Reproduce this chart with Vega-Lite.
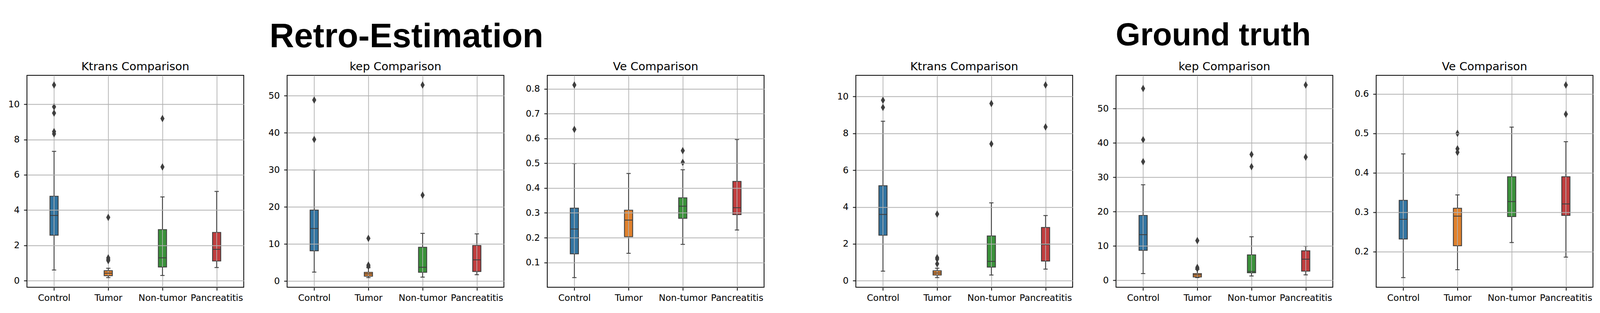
{
  "$schema": "https://vega.github.io/schema/vega-lite/v6.json",
  "background": "white",
  "padding": {"left": 11, "top": 50, "right": 20, "bottom": 27},
  "spacing": 176,
  "data": {"values": [
      {"g":"R","p":"Ktrans","c":"Control","lo":0.61,"q1":2.58,"med":3.70,"q3":4.79,"hi":7.33},
      {"g":"R","p":"Ktrans","c":"Tumor","lo":0.18,"q1":0.29,"med":0.43,"q3":0.57,"hi":0.71},
      {"g":"R","p":"Ktrans","c":"Non-tumor","lo":0.30,"q1":0.78,"med":1.30,"q3":2.90,"hi":4.75},
      {"g":"R","p":"Ktrans","c":"Pancreatitis","lo":0.75,"q1":1.12,"med":1.78,"q3":2.74,"hi":5.06},
      {"g":"R","p":"kep","c":"Control","lo":2.40,"q1":8.15,"med":14.17,"q3":19.14,"hi":29.95},
      {"g":"R","p":"kep","c":"Tumor","lo":0.92,"q1":1.31,"med":1.92,"q3":2.35,"hi":3.6},
      {"g":"R","p":"kep","c":"Non-tumor","lo":1.05,"q1":2.35,"med":3.71,"q3":9.11,"hi":12.86},
      {"g":"R","p":"kep","c":"Pancreatitis","lo":1.70,"q1":2.57,"med":5.71,"q3":9.59,"hi":12.73},
      {"g":"R","p":"Ve","c":"Control","lo":0.039,"q1":0.135,"med":0.235,"q3":0.319,"hi":0.499},
      {"g":"R","p":"Ve","c":"Tumor","lo":0.137,"q1":0.204,"med":0.271,"q3":0.311,"hi":0.459},
      {"g":"R","p":"Ve","c":"Non-tumor","lo":0.173,"q1":0.278,"med":0.327,"q3":0.361,"hi":0.474},
      {"g":"R","p":"Ve","c":"Pancreatitis","lo":0.231,"q1":0.293,"med":0.321,"q3":0.427,"hi":0.596},
      {"g":"G","p":"Ktrans","c":"Control","lo":0.52,"q1":2.47,"med":3.60,"q3":5.16,"hi":8.66},
      {"g":"G","p":"Ktrans","c":"Tumor","lo":0.17,"q1":0.31,"med":0.42,"q3":0.54,"hi":0.68},
      {"g":"G","p":"Ktrans","c":"Non-tumor","lo":0.31,"q1":0.74,"med":1.05,"q3":2.43,"hi":4.23},
      {"g":"G","p":"Ktrans","c":"Pancreatitis","lo":0.63,"q1":1.07,"med":1.96,"q3":2.89,"hi":3.54},
      {"g":"G","p":"kep","c":"Control","lo":1.97,"q1":8.74,"med":13.30,"q3":18.89,"hi":27.82},
      {"g":"G","p":"kep","c":"Tumor","lo":0.80,"q1":0.99,"med":1.60,"q3":1.97,"hi":3.2},
      {"g":"G","p":"kep","c":"Non-tumor","lo":1.27,"q1":2.21,"med":2.58,"q3":7.42,"hi":12.69},
      {"g":"G","p":"kep","c":"Pancreatitis","lo":1.60,"q1":2.68,"med":6.16,"q3":8.60,"hi":9.92},
      {"g":"G","p":"Ve","c":"Control","lo":0.134,"q1":0.232,"med":0.282,"q3":0.330,"hi":0.448},
      {"g":"G","p":"Ve","c":"Tumor","lo":0.154,"q1":0.215,"med":0.290,"q3":0.310,"hi":0.344},
      {"g":"G","p":"Ve","c":"Non-tumor","lo":0.223,"q1":0.289,"med":0.327,"q3":0.390,"hi":0.516},
      {"g":"G","p":"Ve","c":"Pancreatitis","lo":0.186,"q1":0.292,"med":0.321,"q3":0.390,"hi":0.479},
      {"g":"R","p":"Ktrans","c":"Control","out":11.09},
      {"g":"R","p":"Ktrans","c":"Control","out":9.85},
      {"g":"R","p":"Ktrans","c":"Control","out":9.50},
      {"g":"R","p":"Ktrans","c":"Control","out":8.45},
      {"g":"R","p":"Ktrans","c":"Control","out":8.32},
      {"g":"R","p":"Ktrans","c":"Tumor","out":3.59},
      {"g":"R","p":"Ktrans","c":"Tumor","out":1.30},
      {"g":"R","p":"Ktrans","c":"Tumor","out":1.21},
      {"g":"R","p":"Ktrans","c":"Tumor","out":1.14},
      {"g":"R","p":"Ktrans","c":"Non-tumor","out":9.19},
      {"g":"R","p":"Ktrans","c":"Non-tumor","out":6.45},
      {"g":"R","p":"kep","c":"Control","out":48.87},
      {"g":"R","p":"kep","c":"Control","out":38.23},
      {"g":"R","p":"kep","c":"Tumor","out":11.51},
      {"g":"R","p":"kep","c":"Tumor","out":4.3},
      {"g":"R","p":"kep","c":"Tumor","out":3.95},
      {"g":"R","p":"kep","c":"Non-tumor","out":52.92},
      {"g":"R","p":"kep","c":"Non-tumor","out":23.19},
      {"g":"R","p":"Ve","c":"Control","out":0.816},
      {"g":"R","p":"Ve","c":"Control","out":0.637},
      {"g":"R","p":"Ve","c":"Non-tumor","out":0.551},
      {"g":"R","p":"Ve","c":"Non-tumor","out":0.504},
      {"g":"G","p":"Ktrans","c":"Control","out":9.80},
      {"g":"G","p":"Ktrans","c":"Control","out":9.41},
      {"g":"G","p":"Ktrans","c":"Tumor","out":3.62},
      {"g":"G","p":"Ktrans","c":"Tumor","out":1.25},
      {"g":"G","p":"Ktrans","c":"Tumor","out":1.18},
      {"g":"G","p":"Ktrans","c":"Tumor","out":0.92},
      {"g":"G","p":"Ktrans","c":"Non-tumor","out":9.62},
      {"g":"G","p":"Ktrans","c":"Non-tumor","out":7.43},
      {"g":"G","p":"Ktrans","c":"Pancreatitis","out":10.63},
      {"g":"G","p":"Ktrans","c":"Pancreatitis","out":8.35},
      {"g":"G","p":"kep","c":"Control","out":55.83},
      {"g":"G","p":"kep","c":"Control","out":40.93},
      {"g":"G","p":"kep","c":"Control","out":34.54},
      {"g":"G","p":"kep","c":"Tumor","out":11.56},
      {"g":"G","p":"kep","c":"Tumor","out":3.76},
      {"g":"G","p":"kep","c":"Tumor","out":3.4},
      {"g":"G","p":"kep","c":"Non-tumor","out":36.65},
      {"g":"G","p":"kep","c":"Non-tumor","out":33.08},
      {"g":"G","p":"kep","c":"Pancreatitis","out":56.86},
      {"g":"G","p":"kep","c":"Pancreatitis","out":35.86},
      {"g":"G","p":"Ve","c":"Tumor","out":0.500},
      {"g":"G","p":"Ve","c":"Tumor","out":0.461},
      {"g":"G","p":"Ve","c":"Tumor","out":0.452},
      {"g":"G","p":"Ve","c":"Pancreatitis","out":0.623},
      {"g":"G","p":"Ve","c":"Pancreatitis","out":0.549}
  ]},
  "hconcat": [
    {
      "title": {"text": "Retro-Estimation", "font": "Liberation Sans", "fontWeight": "bold", "fontSize": 87, "offset": 17.4, "dx": 56.5},
      "bounds": "flush",
      "spacing": 111,
      "hconcat": [
        {"title": "Ktrans Comparison", "width": 555, "height": 543,
         "transform": [{"filter": "datum.g === 'R' && datum.p === 'Ktrans'"}],
         "layer": [
          {"transform": [{"filter": "isValid(datum.q1)"}], "mark": {"type": "rule", "color": "#3f3f3f", "strokeWidth": 2.2},
           "encoding": {"x": {"field": "c", "type": "nominal", "sort": ["Control", "Tumor", "Non-tumor", "Pancreatitis"], "scale": {"type": "point", "padding": 0.5}, "title": null, "axis": {"labelAngle": 0}},
                        "y": {"field": "lo", "type": "quantitative", "title": null, "scale": {"zero": false, "nice": false, "padding": 24.7}, "axis": {"tickCount": 7, "zindex": 1}},
                        "y2": {"field": "hi"}}},
          {"transform": [{"filter": "isValid(datum.q1)"}], "mark": {"type": "bar", "width": 21, "stroke": "#3f3f3f", "strokeWidth": 2.2},
           "encoding": {"x": {"field": "c", "type": "nominal", "sort": ["Control", "Tumor", "Non-tumor", "Pancreatitis"], "title": null},
                        "y": {"field": "q1", "type": "quantitative", "title": null, "scale": {"zero": false, "nice": false, "padding": 24.7}}, "y2": {"field": "q3"},
                        "color": {"field": "c", "type": "nominal", "scale": {"domain": ["Control", "Tumor", "Non-tumor", "Pancreatitis"], "range": ["#3274a1", "#e1812c", "#3a923a", "#c03d3e"]}, "legend": null}}},
          {"transform": [{"filter": "isValid(datum.q1)"}], "mark": {"type": "rule", "color": "#b0b0b0", "strokeWidth": 1.8},
           "encoding": {"x": {"field": "c", "type": "nominal", "sort": ["Control", "Tumor", "Non-tumor", "Pancreatitis"], "title": null},
                        "y": {"field": "q1", "type": "quantitative", "title": null}, "y2": {"field": "q3"}}},
          {"transform": [{"filter": "isValid(datum.q1)"}, {"fold": ["lo", "hi"], "as": ["k", "v"]}], "mark": {"type": "tick", "color": "#3f3f3f", "size": 11, "thickness": 2.2, "opacity": 1},
           "encoding": {"x": {"field": "c", "type": "nominal", "sort": ["Control", "Tumor", "Non-tumor", "Pancreatitis"], "title": null},
                        "y": {"field": "v", "type": "quantitative", "title": null}}},
          {"transform": [{"filter": "isValid(datum.q1)"}], "mark": {"type": "tick", "color": "#3f3f3f", "size": 21, "thickness": 2.2, "opacity": 1},
           "encoding": {"x": {"field": "c", "type": "nominal", "sort": ["Control", "Tumor", "Non-tumor", "Pancreatitis"], "title": null},
                        "y": {"field": "med", "type": "quantitative", "title": null}}},
          {"transform": [{"filter": "isValid(datum.out)"}], "mark": {"type": "point", "shape": "M0,-1L0.56,0L0,1L-0.56,0Z", "size": 361, "filled": true, "color": "#3f3f3f", "opacity": 1},
           "encoding": {"x": {"field": "c", "type": "nominal", "sort": ["Control", "Tumor", "Non-tumor", "Pancreatitis"], "title": null},
                        "y": {"field": "out", "type": "quantitative", "title": null}}}
         ]},
        {"title": "kep Comparison", "width": 555, "height": 543,
         "transform": [{"filter": "datum.g === 'R' && datum.p === 'kep'"}],
         "layer": [
          {"transform": [{"filter": "isValid(datum.q1)"}], "mark": {"type": "rule", "color": "#3f3f3f", "strokeWidth": 2.2},
           "encoding": {"x": {"field": "c", "type": "nominal", "sort": ["Control", "Tumor", "Non-tumor", "Pancreatitis"], "scale": {"type": "point", "padding": 0.5}, "title": null, "axis": {"labelAngle": 0}},
                        "y": {"field": "lo", "type": "quantitative", "title": null, "scale": {"zero": false, "nice": false, "padding": 24.7}, "axis": {"tickCount": 7, "zindex": 1}},
                        "y2": {"field": "hi"}}},
          {"transform": [{"filter": "isValid(datum.q1)"}], "mark": {"type": "bar", "width": 21, "stroke": "#3f3f3f", "strokeWidth": 2.2},
           "encoding": {"x": {"field": "c", "type": "nominal", "sort": ["Control", "Tumor", "Non-tumor", "Pancreatitis"], "title": null},
                        "y": {"field": "q1", "type": "quantitative", "title": null, "scale": {"zero": false, "nice": false, "padding": 24.7}}, "y2": {"field": "q3"},
                        "color": {"field": "c", "type": "nominal", "scale": {"domain": ["Control", "Tumor", "Non-tumor", "Pancreatitis"], "range": ["#3274a1", "#e1812c", "#3a923a", "#c03d3e"]}, "legend": null}}},
          {"transform": [{"filter": "isValid(datum.q1)"}], "mark": {"type": "rule", "color": "#b0b0b0", "strokeWidth": 1.8},
           "encoding": {"x": {"field": "c", "type": "nominal", "sort": ["Control", "Tumor", "Non-tumor", "Pancreatitis"], "title": null},
                        "y": {"field": "q1", "type": "quantitative", "title": null}, "y2": {"field": "q3"}}},
          {"transform": [{"filter": "isValid(datum.q1)"}, {"fold": ["lo", "hi"], "as": ["k", "v"]}], "mark": {"type": "tick", "color": "#3f3f3f", "size": 11, "thickness": 2.2, "opacity": 1},
           "encoding": {"x": {"field": "c", "type": "nominal", "sort": ["Control", "Tumor", "Non-tumor", "Pancreatitis"], "title": null},
                        "y": {"field": "v", "type": "quantitative", "title": null}}},
          {"transform": [{"filter": "isValid(datum.q1)"}], "mark": {"type": "tick", "color": "#3f3f3f", "size": 21, "thickness": 2.2, "opacity": 1},
           "encoding": {"x": {"field": "c", "type": "nominal", "sort": ["Control", "Tumor", "Non-tumor", "Pancreatitis"], "title": null},
                        "y": {"field": "med", "type": "quantitative", "title": null}}},
          {"transform": [{"filter": "isValid(datum.out)"}], "mark": {"type": "point", "shape": "M0,-1L0.56,0L0,1L-0.56,0Z", "size": 361, "filled": true, "color": "#3f3f3f", "opacity": 1},
           "encoding": {"x": {"field": "c", "type": "nominal", "sort": ["Control", "Tumor", "Non-tumor", "Pancreatitis"], "title": null},
                        "y": {"field": "out", "type": "quantitative", "title": null}}}
         ]},
        {"title": "Ve Comparison", "width": 555, "height": 543,
         "transform": [{"filter": "datum.g === 'R' && datum.p === 'Ve'"}],
         "layer": [
          {"transform": [{"filter": "isValid(datum.q1)"}], "mark": {"type": "rule", "color": "#3f3f3f", "strokeWidth": 2.2},
           "encoding": {"x": {"field": "c", "type": "nominal", "sort": ["Control", "Tumor", "Non-tumor", "Pancreatitis"], "scale": {"type": "point", "padding": 0.5}, "title": null, "axis": {"labelAngle": 0}},
                        "y": {"field": "lo", "type": "quantitative", "title": null, "scale": {"zero": false, "nice": false, "padding": 24.7}, "axis": {"tickCount": 7, "zindex": 1}},
                        "y2": {"field": "hi"}}},
          {"transform": [{"filter": "isValid(datum.q1)"}], "mark": {"type": "bar", "width": 21, "stroke": "#3f3f3f", "strokeWidth": 2.2},
           "encoding": {"x": {"field": "c", "type": "nominal", "sort": ["Control", "Tumor", "Non-tumor", "Pancreatitis"], "title": null},
                        "y": {"field": "q1", "type": "quantitative", "title": null, "scale": {"zero": false, "nice": false, "padding": 24.7}}, "y2": {"field": "q3"},
                        "color": {"field": "c", "type": "nominal", "scale": {"domain": ["Control", "Tumor", "Non-tumor", "Pancreatitis"], "range": ["#3274a1", "#e1812c", "#3a923a", "#c03d3e"]}, "legend": null}}},
          {"transform": [{"filter": "isValid(datum.q1)"}], "mark": {"type": "rule", "color": "#b0b0b0", "strokeWidth": 1.8},
           "encoding": {"x": {"field": "c", "type": "nominal", "sort": ["Control", "Tumor", "Non-tumor", "Pancreatitis"], "title": null},
                        "y": {"field": "q1", "type": "quantitative", "title": null}, "y2": {"field": "q3"}}},
          {"transform": [{"filter": "isValid(datum.q1)"}, {"fold": ["lo", "hi"], "as": ["k", "v"]}], "mark": {"type": "tick", "color": "#3f3f3f", "size": 11, "thickness": 2.2, "opacity": 1},
           "encoding": {"x": {"field": "c", "type": "nominal", "sort": ["Control", "Tumor", "Non-tumor", "Pancreatitis"], "title": null},
                        "y": {"field": "v", "type": "quantitative", "title": null}}},
          {"transform": [{"filter": "isValid(datum.q1)"}], "mark": {"type": "tick", "color": "#3f3f3f", "size": 21, "thickness": 2.2, "opacity": 1},
           "encoding": {"x": {"field": "c", "type": "nominal", "sort": ["Control", "Tumor", "Non-tumor", "Pancreatitis"], "title": null},
                        "y": {"field": "med", "type": "quantitative", "title": null}}},
          {"transform": [{"filter": "isValid(datum.out)"}], "mark": {"type": "point", "shape": "M0,-1L0.56,0L0,1L-0.56,0Z", "size": 361, "filled": true, "color": "#3f3f3f", "opacity": 1},
           "encoding": {"x": {"field": "c", "type": "nominal", "sort": ["Control", "Tumor", "Non-tumor", "Pancreatitis"], "title": null},
                        "y": {"field": "out", "type": "quantitative", "title": null}}}
         ]}
      ]
    },
    {
      "title": {"text": "Ground truth", "font": "Liberation Sans", "fontWeight": "bold", "fontSize": 81, "offset": 23.4},
      "bounds": "flush",
      "spacing": 111,
      "hconcat": [
        {"title": "Ktrans Comparison", "width": 555, "height": 543,
         "transform": [{"filter": "datum.g === 'G' && datum.p === 'Ktrans'"}],
         "layer": [
          {"transform": [{"filter": "isValid(datum.q1)"}], "mark": {"type": "rule", "color": "#3f3f3f", "strokeWidth": 2.2},
           "encoding": {"x": {"field": "c", "type": "nominal", "sort": ["Control", "Tumor", "Non-tumor", "Pancreatitis"], "scale": {"type": "point", "padding": 0.5}, "title": null, "axis": {"labelAngle": 0}},
                        "y": {"field": "lo", "type": "quantitative", "title": null, "scale": {"zero": false, "nice": false, "padding": 24.7}, "axis": {"tickCount": 7, "zindex": 1}},
                        "y2": {"field": "hi"}}},
          {"transform": [{"filter": "isValid(datum.q1)"}], "mark": {"type": "bar", "width": 21, "stroke": "#3f3f3f", "strokeWidth": 2.2},
           "encoding": {"x": {"field": "c", "type": "nominal", "sort": ["Control", "Tumor", "Non-tumor", "Pancreatitis"], "title": null},
                        "y": {"field": "q1", "type": "quantitative", "title": null, "scale": {"zero": false, "nice": false, "padding": 24.7}}, "y2": {"field": "q3"},
                        "color": {"field": "c", "type": "nominal", "scale": {"domain": ["Control", "Tumor", "Non-tumor", "Pancreatitis"], "range": ["#3274a1", "#e1812c", "#3a923a", "#c03d3e"]}, "legend": null}}},
          {"transform": [{"filter": "isValid(datum.q1)"}], "mark": {"type": "rule", "color": "#b0b0b0", "strokeWidth": 1.8},
           "encoding": {"x": {"field": "c", "type": "nominal", "sort": ["Control", "Tumor", "Non-tumor", "Pancreatitis"], "title": null},
                        "y": {"field": "q1", "type": "quantitative", "title": null}, "y2": {"field": "q3"}}},
          {"transform": [{"filter": "isValid(datum.q1)"}, {"fold": ["lo", "hi"], "as": ["k", "v"]}], "mark": {"type": "tick", "color": "#3f3f3f", "size": 11, "thickness": 2.2, "opacity": 1},
           "encoding": {"x": {"field": "c", "type": "nominal", "sort": ["Control", "Tumor", "Non-tumor", "Pancreatitis"], "title": null},
                        "y": {"field": "v", "type": "quantitative", "title": null}}},
          {"transform": [{"filter": "isValid(datum.q1)"}], "mark": {"type": "tick", "color": "#3f3f3f", "size": 21, "thickness": 2.2, "opacity": 1},
           "encoding": {"x": {"field": "c", "type": "nominal", "sort": ["Control", "Tumor", "Non-tumor", "Pancreatitis"], "title": null},
                        "y": {"field": "med", "type": "quantitative", "title": null}}},
          {"transform": [{"filter": "isValid(datum.out)"}], "mark": {"type": "point", "shape": "M0,-1L0.56,0L0,1L-0.56,0Z", "size": 361, "filled": true, "color": "#3f3f3f", "opacity": 1},
           "encoding": {"x": {"field": "c", "type": "nominal", "sort": ["Control", "Tumor", "Non-tumor", "Pancreatitis"], "title": null},
                        "y": {"field": "out", "type": "quantitative", "title": null}}}
         ]},
        {"title": "kep Comparison", "width": 555, "height": 543,
         "transform": [{"filter": "datum.g === 'G' && datum.p === 'kep'"}],
         "layer": [
          {"transform": [{"filter": "isValid(datum.q1)"}], "mark": {"type": "rule", "color": "#3f3f3f", "strokeWidth": 2.2},
           "encoding": {"x": {"field": "c", "type": "nominal", "sort": ["Control", "Tumor", "Non-tumor", "Pancreatitis"], "scale": {"type": "point", "padding": 0.5}, "title": null, "axis": {"labelAngle": 0}},
                        "y": {"field": "lo", "type": "quantitative", "title": null, "scale": {"zero": false, "nice": false, "padding": 24.7}, "axis": {"tickCount": 7, "zindex": 1}},
                        "y2": {"field": "hi"}}},
          {"transform": [{"filter": "isValid(datum.q1)"}], "mark": {"type": "bar", "width": 21, "stroke": "#3f3f3f", "strokeWidth": 2.2},
           "encoding": {"x": {"field": "c", "type": "nominal", "sort": ["Control", "Tumor", "Non-tumor", "Pancreatitis"], "title": null},
                        "y": {"field": "q1", "type": "quantitative", "title": null, "scale": {"zero": false, "nice": false, "padding": 24.7}}, "y2": {"field": "q3"},
                        "color": {"field": "c", "type": "nominal", "scale": {"domain": ["Control", "Tumor", "Non-tumor", "Pancreatitis"], "range": ["#3274a1", "#e1812c", "#3a923a", "#c03d3e"]}, "legend": null}}},
          {"transform": [{"filter": "isValid(datum.q1)"}], "mark": {"type": "rule", "color": "#b0b0b0", "strokeWidth": 1.8},
           "encoding": {"x": {"field": "c", "type": "nominal", "sort": ["Control", "Tumor", "Non-tumor", "Pancreatitis"], "title": null},
                        "y": {"field": "q1", "type": "quantitative", "title": null}, "y2": {"field": "q3"}}},
          {"transform": [{"filter": "isValid(datum.q1)"}, {"fold": ["lo", "hi"], "as": ["k", "v"]}], "mark": {"type": "tick", "color": "#3f3f3f", "size": 11, "thickness": 2.2, "opacity": 1},
           "encoding": {"x": {"field": "c", "type": "nominal", "sort": ["Control", "Tumor", "Non-tumor", "Pancreatitis"], "title": null},
                        "y": {"field": "v", "type": "quantitative", "title": null}}},
          {"transform": [{"filter": "isValid(datum.q1)"}], "mark": {"type": "tick", "color": "#3f3f3f", "size": 21, "thickness": 2.2, "opacity": 1},
           "encoding": {"x": {"field": "c", "type": "nominal", "sort": ["Control", "Tumor", "Non-tumor", "Pancreatitis"], "title": null},
                        "y": {"field": "med", "type": "quantitative", "title": null}}},
          {"transform": [{"filter": "isValid(datum.out)"}], "mark": {"type": "point", "shape": "M0,-1L0.56,0L0,1L-0.56,0Z", "size": 361, "filled": true, "color": "#3f3f3f", "opacity": 1},
           "encoding": {"x": {"field": "c", "type": "nominal", "sort": ["Control", "Tumor", "Non-tumor", "Pancreatitis"], "title": null},
                        "y": {"field": "out", "type": "quantitative", "title": null}}}
         ]},
        {"title": "Ve Comparison", "width": 555, "height": 543,
         "transform": [{"filter": "datum.g === 'G' && datum.p === 'Ve'"}],
         "layer": [
          {"transform": [{"filter": "isValid(datum.q1)"}], "mark": {"type": "rule", "color": "#3f3f3f", "strokeWidth": 2.2},
           "encoding": {"x": {"field": "c", "type": "nominal", "sort": ["Control", "Tumor", "Non-tumor", "Pancreatitis"], "scale": {"type": "point", "padding": 0.5}, "title": null, "axis": {"labelAngle": 0}},
                        "y": {"field": "lo", "type": "quantitative", "title": null, "scale": {"zero": false, "nice": false, "padding": 24.7}, "axis": {"tickCount": 7, "zindex": 1}},
                        "y2": {"field": "hi"}}},
          {"transform": [{"filter": "isValid(datum.q1)"}], "mark": {"type": "bar", "width": 21, "stroke": "#3f3f3f", "strokeWidth": 2.2},
           "encoding": {"x": {"field": "c", "type": "nominal", "sort": ["Control", "Tumor", "Non-tumor", "Pancreatitis"], "title": null},
                        "y": {"field": "q1", "type": "quantitative", "title": null, "scale": {"zero": false, "nice": false, "padding": 24.7}}, "y2": {"field": "q3"},
                        "color": {"field": "c", "type": "nominal", "scale": {"domain": ["Control", "Tumor", "Non-tumor", "Pancreatitis"], "range": ["#3274a1", "#e1812c", "#3a923a", "#c03d3e"]}, "legend": null}}},
          {"transform": [{"filter": "isValid(datum.q1)"}], "mark": {"type": "rule", "color": "#b0b0b0", "strokeWidth": 1.8},
           "encoding": {"x": {"field": "c", "type": "nominal", "sort": ["Control", "Tumor", "Non-tumor", "Pancreatitis"], "title": null},
                        "y": {"field": "q1", "type": "quantitative", "title": null}, "y2": {"field": "q3"}}},
          {"transform": [{"filter": "isValid(datum.q1)"}, {"fold": ["lo", "hi"], "as": ["k", "v"]}], "mark": {"type": "tick", "color": "#3f3f3f", "size": 11, "thickness": 2.2, "opacity": 1},
           "encoding": {"x": {"field": "c", "type": "nominal", "sort": ["Control", "Tumor", "Non-tumor", "Pancreatitis"], "title": null},
                        "y": {"field": "v", "type": "quantitative", "title": null}}},
          {"transform": [{"filter": "isValid(datum.q1)"}], "mark": {"type": "tick", "color": "#3f3f3f", "size": 21, "thickness": 2.2, "opacity": 1},
           "encoding": {"x": {"field": "c", "type": "nominal", "sort": ["Control", "Tumor", "Non-tumor", "Pancreatitis"], "title": null},
                        "y": {"field": "med", "type": "quantitative", "title": null}}},
          {"transform": [{"filter": "isValid(datum.out)"}], "mark": {"type": "point", "shape": "M0,-1L0.56,0L0,1L-0.56,0Z", "size": 361, "filled": true, "color": "#3f3f3f", "opacity": 1},
           "encoding": {"x": {"field": "c", "type": "nominal", "sort": ["Control", "Tumor", "Non-tumor", "Pancreatitis"], "title": null},
                        "y": {"field": "out", "type": "quantitative", "title": null}}}
         ]}
      ]
    }
  ],
  "config": {
    "font": "DejaVu Sans",
    "view": {"stroke": "black", "strokeWidth": 2},
    "axis": {"labelFont": "DejaVu Sans", "labelFontSize": 23, "labelColor": "black", "tickColor": "black", "tickWidth": 2, "tickSize": 8, "domain": false, "grid": true, "gridColor": "#b0b0b0", "gridWidth": 1.8, "gridOpacity": 1},
    "axisX": {"labelPadding": 8},
    "axisY": {"labelPadding": 11, "minExtent": 57},
    "title": {"font": "DejaVu Sans", "fontSize": 29, "fontWeight": "normal", "color": "black", "anchor": "middle", "baseline": "alphabetic", "offset": 7}
  }
}
